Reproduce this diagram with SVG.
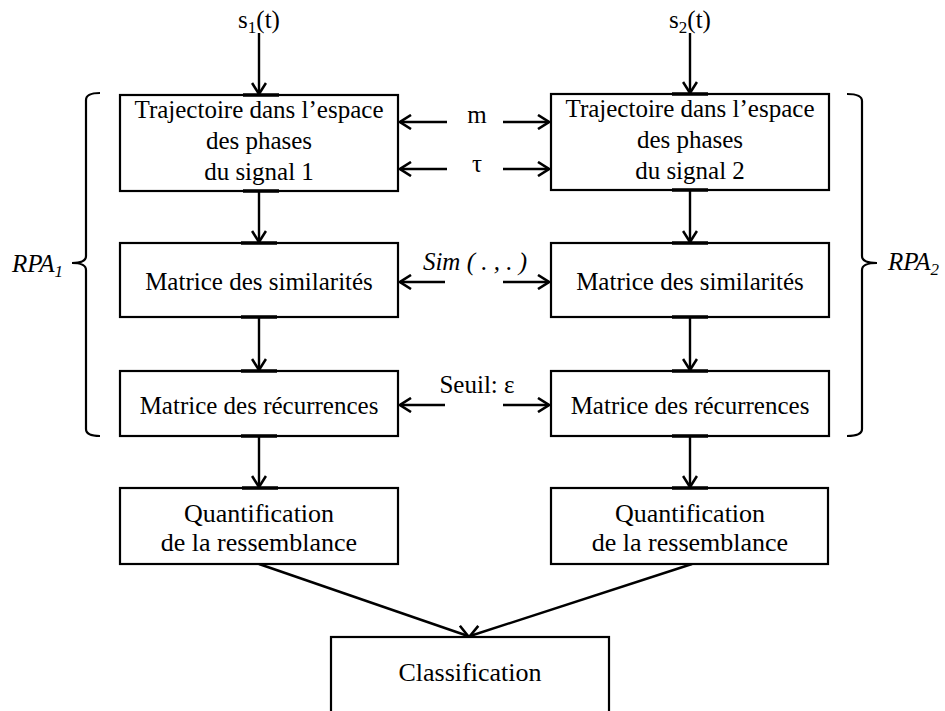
<svg xmlns="http://www.w3.org/2000/svg" width="945" height="711" viewBox="0 0 945 711">
<style>
.box{fill:#fff;stroke:#000;stroke-width:2.2}
.t{font-family:"Liberation Serif","Times New Roman",serif;font-size:25px;fill:#000;text-anchor:middle}
.tl{font-family:"Liberation Serif","Times New Roman",serif;font-size:26px;fill:#000;text-anchor:middle}
.it{font-style:italic}
.c{fill:none;stroke:#000;stroke-width:2.2}
.a{fill:none;stroke:#000;stroke-width:2.4;marker-end:url(#ah)}
.mk{stroke:#000;stroke-width:3.5}
</style>
<defs>
<marker id="ah" viewBox="0 0 13 16" refX="12" refY="8" markerWidth="13" markerHeight="16" markerUnits="userSpaceOnUse" orient="auto">
<path d="M1,1 L12,8 L1,15" fill="none" stroke="#000" stroke-width="2.6"/>
</marker>
</defs>
<rect width="945" height="711" fill="#fff"/>

<g id="connectors">
<line class="a" x1="259" y1="33" x2="259" y2="94"/>
<line class="a" x1="690" y1="33" x2="690" y2="93"/>
<line class="a" x1="259" y1="191" x2="259" y2="242"/>
<line class="a" x1="690" y1="190" x2="690" y2="242"/>
<line class="a" x1="259" y1="317" x2="259" y2="370"/>
<line class="a" x1="690" y1="317" x2="690" y2="370"/>
<line class="a" x1="259" y1="436" x2="259" y2="487"/>
<line class="a" x1="690" y1="436" x2="690" y2="487"/>
<line class="a" x1="447" y1="122" x2="400" y2="122"/>
<line class="a" x1="503" y1="122" x2="549" y2="122"/>
<line class="a" x1="447" y1="169" x2="400" y2="169"/>
<line class="a" x1="503" y1="169" x2="549" y2="169"/>
<line class="a" x1="445" y1="282" x2="400" y2="282"/>
<line class="a" x1="503" y1="282" x2="549" y2="282"/>
<line class="a" x1="445" y1="405" x2="400" y2="405"/>
<line class="a" x1="503" y1="405" x2="549" y2="405"/>
<line class="a" x1="259" y1="564" x2="468" y2="636"/>
<line class="a" x1="692" y1="564" x2="470" y2="636"/>
<path class="c" d="M100,93 Q86,93 86,100 L86,256 Q86,263 72,263 Q86,263 86,270 L86,429 Q86,436 100,436"/>
<path class="c" d="M847,94 Q862,94 862,101 L862,256 Q862,263 877,263 Q862,263 862,270 L862,429 Q862,436 847,436"/>
</g>

<g id="s1"><text class="t" x="259" y="28">s<tspan font-size="17" dy="5">1</tspan><tspan dy="-5">(t)</tspan></text></g>
<g id="s2"><text class="t" x="690" y="28">s<tspan font-size="17" dy="5">2</tspan><tspan dy="-5">(t)</tspan></text></g>

<g id="traj1">
<rect class="box" x="120" y="95" width="278" height="96"/>
<text class="t" x="259" y="118">Trajectoire dans l’espace</text>
<text class="t" x="259" y="149">des phases</text>
<text class="t" x="259" y="180">du signal 1</text>
</g>
<g id="traj2">
<rect class="box" x="551" y="94" width="278" height="96"/>
<text class="t" x="690" y="117">Trajectoire dans l’espace</text>
<text class="t" x="690" y="148">des phases</text>
<text class="t" x="690" y="179">du signal 2</text>
</g>
<g id="sim1">
<rect class="box" x="120" y="243" width="278" height="74"/>
<text class="t" x="259" y="290">Matrice des similarités</text>
</g>
<g id="sim2">
<rect class="box" x="551" y="243" width="278" height="74"/>
<text class="t" x="690" y="290">Matrice des similarités</text>
</g>
<g id="rec1">
<rect class="box" x="120" y="371" width="278" height="65"/>
<text class="t" x="259" y="414">Matrice des récurrences</text>
</g>
<g id="rec2">
<rect class="box" x="551" y="371" width="278" height="65"/>
<text class="t" x="690" y="414">Matrice des récurrences</text>
</g>
<g id="quant1">
<rect class="box" x="120" y="488" width="278" height="76"/>
<text class="tl" x="259" y="522">Quantification</text>
<text class="tl" x="259" y="551">de la ressemblance</text>
</g>
<g id="quant2">
<rect class="box" x="551" y="488" width="277" height="76"/>
<text class="tl" x="690" y="522">Quantification</text>
<text class="tl" x="690" y="551">de la ressemblance</text>
</g>
<g id="classif">
<rect class="box" x="331" y="637" width="278" height="90"/>
<text class="tl" x="470" y="681">Classification</text>
</g>

<g id="marks">
<line class="mk" x1="243" y1="95" x2="279" y2="95"/>
<line class="mk" x1="243" y1="191" x2="279" y2="191"/>
<line class="mk" x1="241" y1="243" x2="277" y2="243"/>
<line class="mk" x1="241" y1="317" x2="277" y2="317"/>
<line class="mk" x1="241" y1="371" x2="277" y2="371"/>
<line class="mk" x1="241" y1="436" x2="277" y2="436"/>
<line class="mk" x1="242" y1="488" x2="278" y2="488"/>
<line class="mk" x1="672" y1="94" x2="708" y2="94"/>
<line class="mk" x1="672" y1="190" x2="708" y2="190"/>
<line class="mk" x1="672" y1="243" x2="708" y2="243"/>
<line class="mk" x1="672" y1="317" x2="708" y2="317"/>
<line class="mk" x1="672" y1="371" x2="708" y2="371"/>
<line class="mk" x1="672" y1="436" x2="708" y2="436"/>
<line class="mk" x1="672" y1="488" x2="708" y2="488"/>
</g>

<g id="labels">
<text class="t" x="477" y="123">m</text>
<text class="t" x="477" y="172">τ</text>
<text class="t it" x="475" y="270">Sim ( . , . )</text>
<text class="t" x="477" y="393">Seuil: ε</text>
<text class="t it" x="12" y="272" style="text-anchor:start">RPA<tspan font-size="17" dy="5">1</tspan></text>
<text class="t it" x="888" y="270" style="text-anchor:start">RPA<tspan font-size="17" dy="5">2</tspan></text>
</g>
</svg>
